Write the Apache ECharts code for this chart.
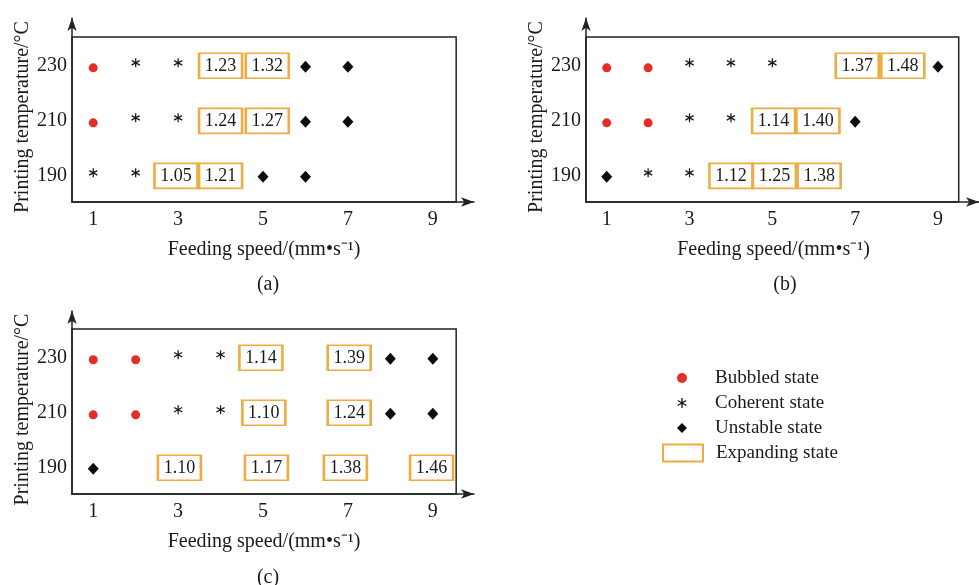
<!DOCTYPE html>
<html>
<head>
<meta charset="utf-8">
<script src="https://cdn.jsdelivr.net/npm/echarts@6/dist/echarts.min.js"></script>
<style>
html,body{margin:0;padding:0;background:#fff;}
#chart{width:979px;height:585px;}
</style>
</head>
<body>
<div id="chart"></div>
<script>
// ---- tick labels ----
const xTicks = [1, 3, 5, 7, 9];
const yTicks = [190, 210, 230];

// ---- panel (a) ----
const aBubbled = [[1, 230], [1, 210]];
const aCoherent = [[2, 230], [3, 230], [2, 210], [3, 210], [1, 190], [2, 190]];
const aUnstable = [[6, 230], [7, 230], [6, 210], [7, 210], [5, 190], [6, 190]];
const aExpanding = [[4, 230, 1.23], [5.1, 230, 1.32], [4, 210, 1.24], [5.1, 210, 1.27], [2.95, 190, 1.05], [4, 190, 1.21]];

// ---- panel (b) ----
const bBubbled = [[1, 230], [2, 230], [1, 210], [2, 210]];
const bCoherent = [[3, 230], [4, 230], [5, 230], [3, 210], [4, 210], [2, 190], [3, 190]];
const bUnstable = [[9, 230], [7, 210], [1, 190]];
const bExpanding = [[7.05, 230, 1.37], [8.15, 230, 1.48], [5.03, 210, 1.14], [6.1, 210, 1.40], [4, 190, 1.12], [5.05, 190, 1.25], [6.13, 190, 1.38]];

// ---- panel (c) ----
const cBubbled = [[1, 230], [2, 230], [1, 210], [2, 210]];
const cCoherent = [[3, 230], [4, 230], [3, 210], [4, 210]];
const cUnstable = [[8, 230], [9, 230], [8, 210], [9, 210], [1, 190]];
const cExpanding = [[4.95, 230, 1.14], [7.03, 230, 1.39], [5.02, 210, 1.10], [7.03, 210, 1.24], [3.03, 190, 1.10], [5.08, 190, 1.17], [6.94, 190, 1.38], [8.97, 190, 1.46]];

const panels = [
  {tag: '(a)', bub: aBubbled, coh: aCoherent, uns: aUnstable, exp: aExpanding},
  {tag: '(b)', bub: bBubbled, coh: bCoherent, uns: bUnstable, exp: bExpanding},
  {tag: '(c)', bub: cBubbled, coh: cCoherent, uns: cUnstable, exp: cExpanding}
];

const xName = 'Feeding speed/(mm\u2022s\u207B\u00B9)';
const yName = 'Printing temperature/\u00B0C';

// layout (pixels) and axis extents
const layout = [
  {grid: {left: 72, top: 18, width: 402, height: 184}, xMin: 0.5, xMax: 9.97, yMin: 180.5, yMax: 247.4, boxX: [0.5, 9.55], tagPos: [263, 270]},
  {grid: {left: 586, top: 18, width: 404, height: 184}, xMin: 0.5, xMax: 9.99, yMin: 180.5, yMax: 247.4, boxX: [0.5, 9.5], tagPos: [780, 270]},
  {grid: {left: 72, top: 311, width: 402, height: 183}, xMin: 0.5, xMax: 9.97, yMin: 180.5, yMax: 247.0, boxX: [0.5, 9.55], tagPos: [263, 563]}
];
const boxY = [180.5, 240.5];

const FONT = 'Liberation Serif';
const TXT = '#1a1a1a';
const RED = '#e52d25';
const ORANGE = '#eeac42';
const ASTERISK = 'path://M8.8,1L11.2,1L11.2,19L8.8,19Z M17.4,15.6L1.8,6.6L3.0,4.4L18.6,13.4Z M1.4,13.4L17.0,4.4L18.2,6.6L2.6,15.6Z';

const grids = [], xAxes = [], yAxes = [], series = [], titles = [];
panels.forEach((p, i) => {
  const L = layout[i];
  grids.push(Object.assign({containLabel: false}, L.grid));
  xAxes.push({
    type: 'value', gridIndex: i, min: L.xMin, max: L.xMax,
    name: xName, nameLocation: 'middle', nameGap: 38,
    nameTextStyle: {fontFamily: FONT, fontSize: 20, color: TXT, padding: [0, 18, 0, 0]},
    axisLine: {show: true, onZero: false, symbol: ['none', 'arrow'], symbolSize: [7, 13], lineStyle: {color: '#222', width: 1.5}},
    axisTick: {show: false},
    splitLine: {show: false},
    axisLabel: {customValues: xTicks, fontFamily: FONT, fontSize: 20, color: TXT, margin: 8}
  });
  yAxes.push({
    type: 'value', gridIndex: i, min: L.yMin, max: L.yMax,
    name: yName, nameLocation: 'middle', nameGap: 38, nameRotate: 90,
    nameTextStyle: {fontFamily: FONT, fontSize: 20, color: TXT, padding: [0, 14, 0, 0]},
    axisLine: {show: true, onZero: false, symbol: ['none', 'arrow'], symbolSize: [7, 13], lineStyle: {color: '#222', width: 1.5}},
    axisTick: {show: false},
    splitLine: {show: false},
    axisLabel: {customValues: yTicks, fontFamily: FONT, fontSize: 20, color: TXT, margin: 5}
  });
  titles.push({text: p.tag, left: L.tagPos[0], top: L.tagPos[1], textAlign: 'center',
    textStyle: {fontFamily: FONT, fontSize: 20, fontWeight: 'normal', color: TXT}});

  series.push({
    name: 'Bubbled state', type: 'scatter', xAxisIndex: i, yAxisIndex: i,
    symbol: 'circle', symbolSize: 9, symbolOffset: [0, 2],
    itemStyle: {color: RED, opacity: 1}, data: p.bub, z: 3,
    markArea: {silent: true,
      itemStyle: {color: 'rgba(0,0,0,0)', borderColor: '#222', borderWidth: 1.5, opacity: 1},
      data: [[{coord: [L.boxX[0], boxY[0]]}, {coord: [L.boxX[1], boxY[1]]}]]}
  });
  series.push({
    name: 'Coherent state', type: 'scatter', xAxisIndex: i, yAxisIndex: i,
    symbol: ASTERISK, symbolSize: 9, symbolOffset: [0, -3],
    itemStyle: {color: '#1a1a1a', opacity: 1}, data: p.coh, z: 3
  });
  series.push({
    name: 'Unstable state', type: 'scatter', xAxisIndex: i, yAxisIndex: i,
    symbol: 'diamond', symbolSize: [11, 12], symbolOffset: [0, 1],
    itemStyle: {color: '#0d0d0d', opacity: 1}, data: p.uns, z: 3
  });
  series.push({
    name: 'Expanding state', type: 'scatter', xAxisIndex: i, yAxisIndex: i,
    symbol: 'rect', symbolSize: [43, 25],
    itemStyle: {color: '#fff', borderColor: ORANGE, borderWidth: 2, opacity: 1},
    label: {show: true, position: 'inside', fontFamily: FONT, fontSize: 18, color: TXT,
      formatter: (d) => d.value[2].toFixed(2)},
    data: p.exp, z: 4
  });
});

const chart = echarts.init(document.getElementById('chart'), null, {renderer: 'canvas'});
chart.setOption({
  backgroundColor: '#fff',
  animation: false,
  title: titles,
  grid: grids,
  xAxis: xAxes,
  yAxis: yAxes,
  legend: [
    {orient: 'vertical', left: 672, top: 363, itemWidth: 10, itemHeight: 10, itemGap: 5,
      selectedMode: false,
      textStyle: {fontFamily: FONT, fontSize: 19, color: TXT, lineHeight: 20, padding: [0, 0, 0, 23]},
      data: [
        {name: 'Bubbled state', icon: 'circle', itemStyle: {color: RED, opacity: 1}},
        {name: 'Coherent state', icon: ASTERISK, itemStyle: {color: '#1a1a1a', opacity: 1}},
        {name: 'Unstable state', icon: 'diamond', itemStyle: {color: '#0d0d0d', opacity: 1}}
      ]},
    {orient: 'vertical', left: 657, top: 438, itemWidth: 40, itemHeight: 17,
      selectedMode: false, symbolKeepAspect: false,
      textStyle: {fontFamily: FONT, fontSize: 19, color: TXT, lineHeight: 20, padding: [0, 0, 0, 8]},
      data: [{name: 'Expanding state', icon: 'rect', itemStyle: {color: '#fff', borderColor: ORANGE, borderWidth: 2, opacity: 1}}]}
  ],
  series: series
});
</script>
</body>
</html>
